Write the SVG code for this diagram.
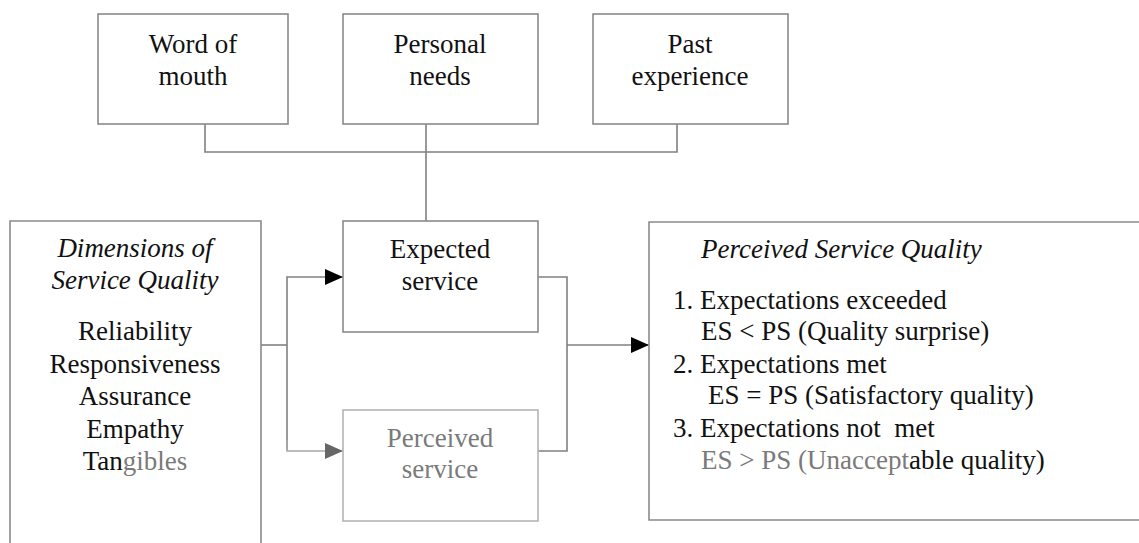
<svg xmlns="http://www.w3.org/2000/svg" width="1139" height="543" viewBox="0 0 1139 543">
<defs>
<style>
.box{fill:#fff;stroke:#8a8a8a;stroke-width:1.6}
.faint{stroke:#b4b4b4}
.line{fill:none;stroke:#808080;stroke-width:1.6}
.t{font-size:27px;fill:#111}
.c{text-anchor:middle}
.i{font-style:italic}
.g{fill:#7a7a7a}
</style>
<marker id="ah" viewBox="0 0 18 16" refX="18" refY="8" markerWidth="18" markerHeight="16" markerUnits="userSpaceOnUse" orient="auto">
<path d="M0,0 L18,8 L0,16 Z" fill="#000"/>
</marker>
<marker id="ahg" viewBox="0 0 18 16" refX="18" refY="8" markerWidth="18" markerHeight="16" markerUnits="userSpaceOnUse" orient="auto">
<path d="M0,0 L18,8 L0,16 Z" fill="#666"/>
</marker>
</defs>
<rect width="1139" height="543" fill="#fff"/>
<g id="connectors">
<polyline class="line" points="205,124 205,152 677,152 677,124"/>
<line class="line" x1="426" y1="124" x2="426" y2="221"/>
<line class="line" x1="261" y1="345" x2="287" y2="345"/>
<polyline class="line" points="287,450 287,277 343,277" marker-end="url(#ah)"/>
<polyline class="line" style="stroke:#a8a8a8" points="287,440 287,451 343,451" marker-end="url(#ahg)"/>
<polyline class="line" points="538,277 567,277 567,451 538,451"/>
<line class="line" x1="567" y1="345" x2="649" y2="345" marker-end="url(#ah)"/>
</g>
<g font-family="'Liberation Serif', 'DejaVu Serif', serif">
<g id="word-of-mouth">
<rect class="box" x="98" y="14" width="190" height="110"/>
<text class="t c" x="193" y="53">Word of</text>
<text class="t c" x="193" y="85">mouth</text>
</g>
<g id="personal-needs">
<rect class="box" x="343" y="14" width="195" height="110"/>
<text class="t c" x="440" y="53">Personal</text>
<text class="t c" x="440" y="85">needs</text>
</g>
<g id="past-experience">
<rect class="box" x="593" y="14" width="195" height="110"/>
<text class="t c" x="690" y="53">Past</text>
<text class="t c" x="690" y="85">experience</text>
</g>
<g id="dimensions">
<path class="box" d="M10,545 L10,221 L261,221 L261,545"/>
<text class="t c i" x="135" y="257">Dimensions of</text>
<text class="t c i" x="135" y="289">Service Quality</text>
<text class="t c" x="135" y="340">Reliability</text>
<text class="t c" x="135" y="373">Responsiveness</text>
<text class="t c" x="135" y="405">Assurance</text>
<text class="t c" x="135" y="438">Empathy</text>
<text class="t c" x="135" y="470">Tan<tspan class="g">gibles</tspan></text>
</g>
<g id="expected-service">
<rect class="box" x="343" y="221" width="195" height="111"/>
<text class="t c" x="440" y="258">Expected</text>
<text class="t c" x="440" y="290">service</text>
</g>
<g id="perceived-service">
<rect class="box faint" x="343" y="410" width="195" height="111"/>
<text class="t c g" x="440" y="447">Perceived</text>
<text class="t c g" x="440" y="478">service</text>
</g>
<g id="perceived-quality">
<path class="box" d="M1141,222 L649,222 L649,520 L1141,520"/>
<text class="t i" x="701" y="258">Perceived Service Quality</text>
<text class="t" x="673" y="309">1. Expectations exceeded</text>
<text class="t" x="701" y="340">ES &lt; PS (Quality surprise)</text>
<text class="t" x="673" y="373">2. Expectations met</text>
<text class="t" x="708" y="404">ES = PS (Satisfactory quality)</text>
<text class="t" x="673" y="437" xml:space="preserve">3. Expectations not  met</text>
<text class="t" x="701" y="469"><tspan class="g">ES &gt; PS (Unaccept</tspan>able quality)</text>
</g>
</g>
</svg>
